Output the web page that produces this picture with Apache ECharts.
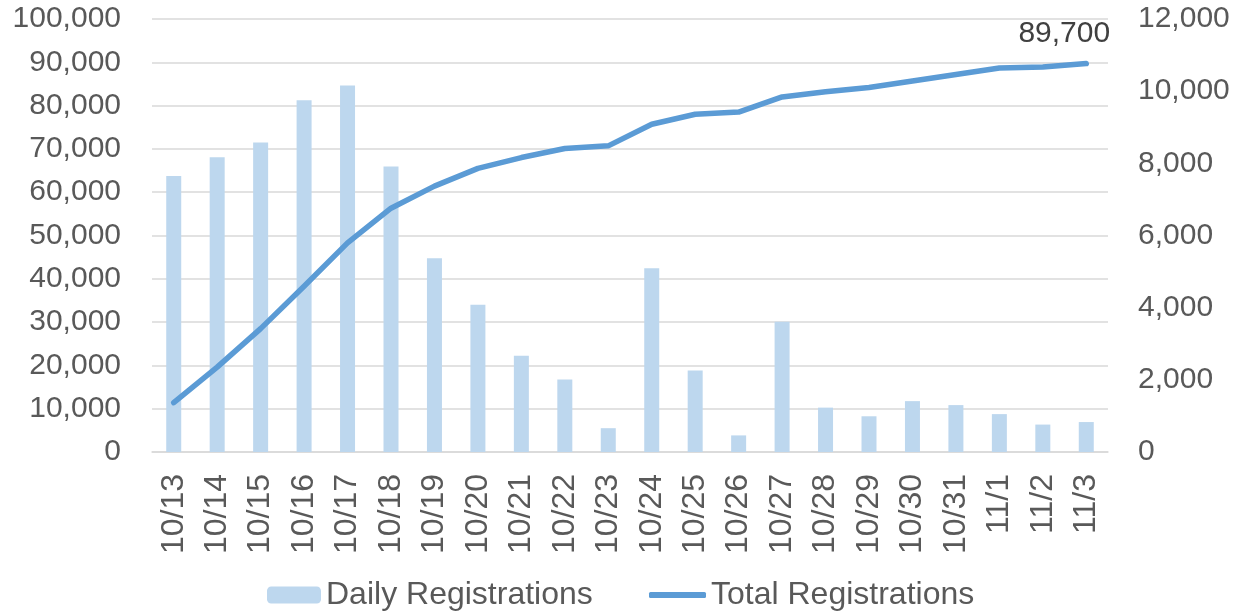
<!DOCTYPE html>
<html>
<head>
<meta charset="utf-8">
<script src="https://cdn.jsdelivr.net/npm/echarts@6/dist/echarts.min.js"></script>
<style>
  html, body { margin: 0; padding: 0; background: #fff; }
  #chart { width: 1234px; height: 614px; }
</style>
</head>
<body>
<div id="chart"></div>
<script>
// data
var days = ['10/13','10/14','10/15','10/16','10/17','10/18','10/19','10/20','10/21','10/22','10/23',
            '10/24','10/25','10/26','10/27','10/28','10/29','10/30','10/31','11/1','11/2','11/3'];
var daily = [7650, 8170, 8580, 9750, 10160, 7910, 5370, 4080, 2670, 2010, 660,
             5090, 2260, 460, 3610, 1230, 990, 1410, 1300, 1050, 760, 830];
var total = [11400, 19600, 28500, 38300, 48300, 56300, 61400, 65500, 68000, 70100, 70700,
             75700, 78000, 78500, 82000, 83200, 84200, 85700, 87200, 88700, 88900, 89700];

var font = 'Liberation Sans, Arial, sans-serif';
var txt = '#595959';

function fmt(v) { return v.toLocaleString('en-US'); }

var chart = echarts.init(document.getElementById('chart'));

var lastIdx = total.length - 1;
var legendText = { fontSize: 32, color: txt, fontFamily: font };

var option = {
  animation: false,
  textStyle: { fontFamily: font },
  grid: { left: 152, right: 126, top: 19, bottom: 162 },
  // two legends so the line one gets a plain thick stroke as icon
  legend: [
    {
      bottom: 3, left: 267, padding: 0,
      itemWidth: 54, itemHeight: 17,
      textStyle: legendText,
      data: ['Daily Registrations']
    },
    {
      bottom: 3, left: 649, padding: 0,
      icon: 'roundRect',
      itemWidth: 57, itemHeight: 6,
      textStyle: legendText,
      data: ['Total Registrations']
    }
  ],
  xAxis: {
    type: 'category',
    data: days,
    axisLine: { lineStyle: { color: '#d9d9d9', width: 1.5 } },
    axisTick: { show: false },
    axisLabel: { rotate: 90, fontSize: 32, color: txt, margin: 22, interval: 0 }
  },
  yAxis: [
    {
      type: 'value', min: 0, max: 100000, interval: 10000,
      axisLine: { show: false }, axisTick: { show: false },
      splitLine: { lineStyle: { color: '#d9d9d9', width: 1.5 } },
      axisLabel: { fontSize: 30, color: txt, margin: 31, formatter: fmt }
    },
    {
      type: 'value', min: 0, max: 12000, interval: 2000,
      axisLine: { show: false }, axisTick: { show: false },
      splitLine: { show: false },
      axisLabel: { fontSize: 30, color: txt, margin: 30, formatter: fmt }
    }
  ],
  series: [
    {
      name: 'Daily Registrations',
      type: 'bar',
      yAxisIndex: 1,
      barWidth: 15,
      itemStyle: { color: '#bdd7ee' },
      data: daily
    },
    {
      name: 'Total Registrations',
      type: 'line',
      yAxisIndex: 0,
      symbol: 'none',
      lineStyle: { color: '#5b9bd5', width: 5.5, cap: 'round', join: 'round' },
      itemStyle: { color: '#5b9bd5' },
      data: total,
      // 最后一个点的数值标签
      markPoint: {
        symbol: 'circle',
        symbolSize: 1,
        itemStyle: { color: 'rgba(0,0,0,0)' },
        label: {
          show: true, position: 'inside', offset: [-22, -30],
          fontSize: 30, color: '#404040', fontFamily: font,
          formatter: function (p) { return fmt(p.value); }
        },
        data: [{ coord: [lastIdx, total[lastIdx]], value: total[lastIdx] }]
      }
    }
  ]
};

chart.setOption(option);
</script>
</body>
</html>
